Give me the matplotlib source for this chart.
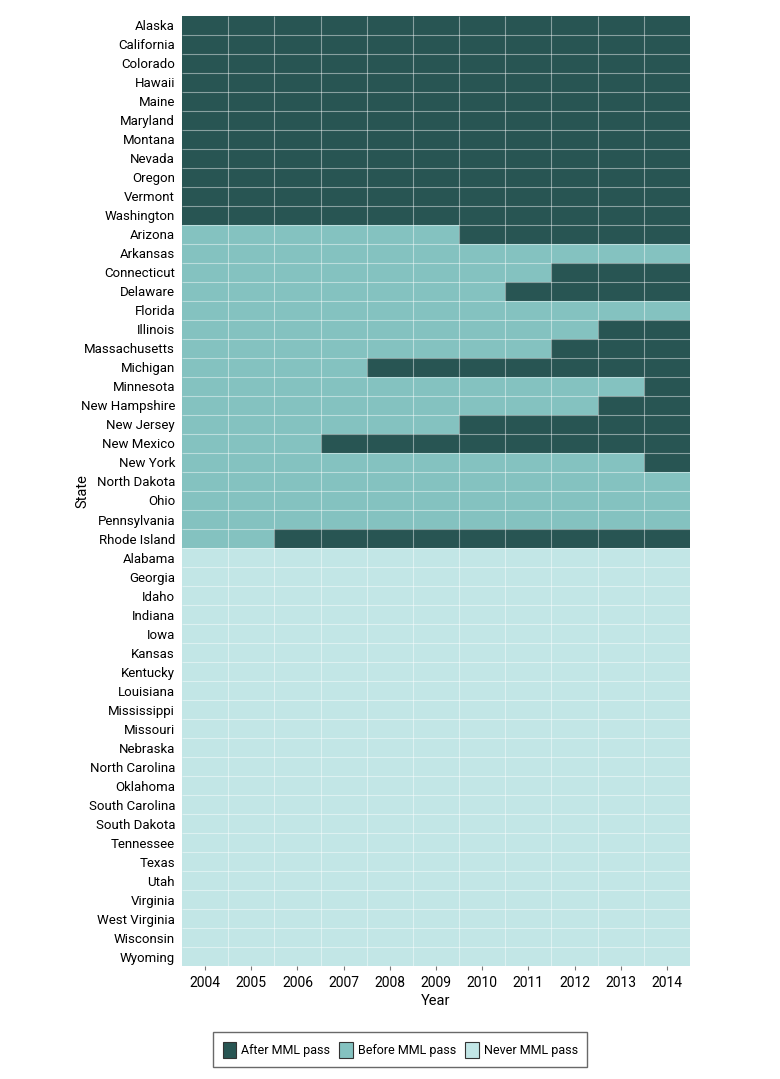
import matplotlib.pyplot as plt
import numpy as np
from matplotlib.colors import ListedColormap
from matplotlib.patches import Patch

plt.rcParams['font.family'] = ['Roboto', 'DejaVu Sans']

years = [2004, 2005, 2006, 2007, 2008, 2009, 2010, 2011, 2012, 2013, 2014]

states = ["Alaska", "California", "Colorado", "Hawaii", "Maine", "Maryland", "Montana",
          "Nevada", "Oregon", "Vermont", "Washington",
          "Arizona", "Arkansas", "Connecticut", "Delaware", "Florida", "Illinois",
          "Massachusetts", "Michigan", "Minnesota", "New Hampshire", "New Jersey",
          "New Mexico", "New York", "North Dakota", "Ohio", "Pennsylvania", "Rhode Island",
          "Alabama", "Georgia", "Idaho", "Indiana", "Iowa", "Kansas", "Kentucky", "Louisiana",
          "Mississippi", "Missouri", "Nebraska", "North Carolina", "Oklahoma",
          "South Carolina", "South Dakota", "Tennessee", "Texas", "Utah", "Virginia",
          "West Virginia", "Wisconsin", "Wyoming"]

# first year counted as "after MML pass" (None = never passed)
pass_year = [2004] * 11 + [
    2010, 2016, 2012, 2011, 2016, 2013, 2012, 2008, 2014, 2013, 2010,
    2007, 2014, 2016, 2016, 2016, 2006,
] + [None] * 22

categories = ["After MML pass", "Before MML pass", "Never MML pass"]
colors = ["#285553", "#84c2c0", "#c2e6e6"]

# 0 = after, 1 = before, 2 = never
status = np.zeros((len(states), len(years)))
for i, py in enumerate(pass_year):
    for j, yr in enumerate(years):
        if py is None:
            status[i, j] = 2
        elif yr >= py:
            status[i, j] = 0
        else:
            status[i, j] = 1

fig = plt.figure(figsize=(7.8, 10.79), dpi=100)
ax = fig.add_axes([0.2333, 0.1047, 0.6513, 0.8805])

x_edges = np.arange(len(years) + 1) - 0.5
y_edges = np.arange(len(states) + 1) - 0.5
ax.pcolormesh(x_edges, y_edges, status, cmap=ListedColormap(colors), vmin=-0.5, vmax=2.5)
# cell separators
ax.vlines(x_edges[1:-1], -0.5, len(states) - 0.5, color='white', alpha=0.45, linewidth=0.8)
ax.hlines(y_edges[1:-1], -0.5, len(years) - 0.5, color='white', alpha=0.45, linewidth=0.8)
ax.set_xlim(-0.5, len(years) - 0.5)
ax.set_ylim(len(states) - 0.5, -0.5)

ax.set_xticks(range(len(years)))
ax.set_xticklabels(years, fontsize=10)
ax.set_yticks(range(len(states)))
ax.set_yticklabels(states, fontsize=9.5)
ax.tick_params(axis='y', length=0, pad=5)
ax.tick_params(axis='x', length=3, color='#777777', pad=4)
for s in ax.spines.values():
    s.set_visible(False)

ax.set_xlabel('Year', fontsize=10.5)
ax.set_ylabel('State', fontsize=10.5)
ax.xaxis.set_label_coords(0.5, -0.037)
ax.yaxis.set_label_coords(-0.195, 0.5)
ax.xaxis.label.set_va('center')
ax.yaxis.label.set_va('center')

handles = [Patch(facecolor=c, edgecolor='#333333', linewidth=0.8, label=l)
           for c, l in zip(colors, categories)]
fig.legend(handles=handles, loc='center', bbox_to_anchor=(0.513, 0.0273), ncol=3,
           fontsize=9, frameon=True, fancybox=False, edgecolor='#444444',
           handlelength=1.1, handleheight=1.6, columnspacing=0.7, handletextpad=0.4,
           borderpad=0.75, borderaxespad=0)

plt.savefig('out.png')
